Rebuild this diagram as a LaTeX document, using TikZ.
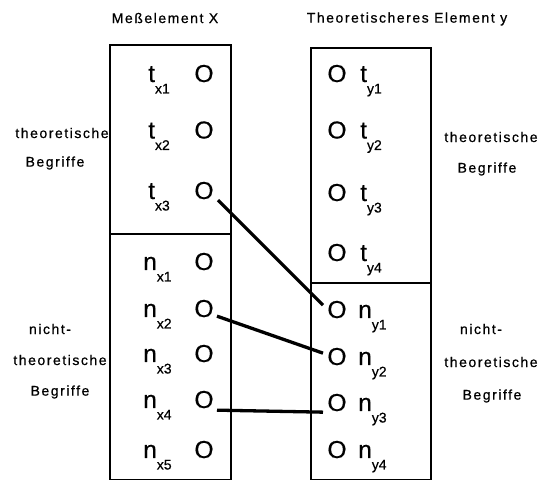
\documentclass[tikz,border=0pt]{standalone}
\usepackage{fontspec}
\setmainfont{Liberation Sans}
\newfontfamily\lblfont[LetterSpace=11,FakeBold=0.6]{Liberation Sans}
\newfontfamily\itmfont[FakeBold=0.5]{Liberation Sans}
\newcommand\bigf{\itmfont\fontsize{24.5}{24.5}\selectfont}
\newcommand\subf{\itmfont\fontsize{14}{14}\selectfont}
\newcommand\itm[2]{{\bigf #1}\raisebox{-11.5pt}{\subf #2}}
\begin{document}
\begin{tikzpicture}[x=1pt,y=-1pt,
  lbl/.style={font=\lblfont\fontsize{14}{14}\selectfont, inner sep=0},
  circ/.style={font=\bigf, inner sep=0, anchor=base},
  item/.style={inner sep=0, anchor=base west},
  box/.style={draw, line width=1.2pt},
  link/.style={line width=3.3pt}]
\useasboundingbox (0,0) rectangle (539,481);
% boxes
\draw[box] (110,45) rectangle (231,479.5);
\draw[box] (110,234) -- (231,234);
\draw[box] (311,48) rectangle (431,479.5);
\draw[box] (311,283) -- (431,283);
% titles
\node[lbl] (tX) at (165,18) {Meßelement X};
\node[lbl] (tY) at (407,19) {Theoretischeres Element y};
% side labels
\node[lbl] (l1a) at (62,133) {theoretische};
\node[lbl] (l1b) at (55,163) {Begriffe};
\node[lbl] (l2a) at (50,329) {nicht-};
\node[lbl] (l2b) at (60,360) {theoretische};
\node[lbl] (l2c) at (60,392) {Begriffe};
\node[lbl] (r1a) at (491,137) {theoretische};
\node[lbl] (r1b) at (487,169) {Begriffe};
\node[lbl] (r2a) at (481,329) {nicht-};
\node[lbl] (r2b) at (491,362) {theoretische};
\node[lbl] (r2c) at (492,396) {Begriffe};
% left items
\foreach \i/\y in {1/82,2/138.5,3/199}{
  \node[circ] (otx\i) at (204,\y) {O};
  \node[item] (tx\i) at (148,\y) {\itm{t}{x\i}};
}
\foreach \i/\y in {1/270,2/317,3/362,4/408,5/458}{
  \node[circ] (onx\i) at (204,\y) {O};
  \node[item] (nx\i) at (143,\y) {\itm{n}{x\i}};
}
% right items
\foreach \i/\y in {1/82,2/138.5,3/201,4/261}{
  \node[circ] (oty\i) at (337,\y) {O};
  \node[item] (ty\i) at (360,\y) {\itm{t}{y\i}};
}
\foreach \i/\y in {1/318,2/365,3/411,4/458}{
  \node[circ] (ony\i) at (337,\y) {O};
  \node[item] (ny\i) at (358,\y) {\itm{n}{y\i}};
}
% connectors
\draw[link] ([shift={(14,9.6)}]otx3.center) -- ([shift={(-14,-4.4)}]ony1.center);
\draw[link] ([shift={(13,7.6)}]onx2.center) -- ([shift={(-14,-3.4)}]ony2.center);
\draw[link] ([shift={(13,10.6)}]onx4.center) -- ([shift={(-14,9.6)}]ony3.center);
\end{tikzpicture}
\end{document}
